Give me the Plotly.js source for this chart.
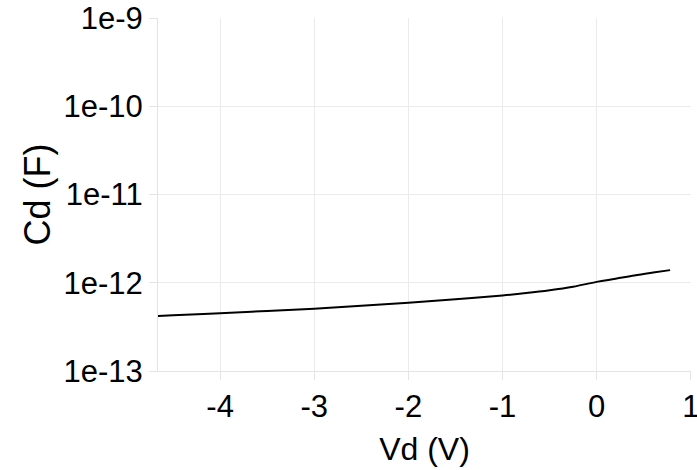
<!DOCTYPE html>
<html>
<head>
<meta charset="utf-8">
<script src="https://cdn.plot.ly/plotly-3.0.1.min.js"></script>
<style>html,body{margin:0;padding:0;background:#fff}#chart{width:697px;height:470px}</style>
</head>
<body>
<div id="chart"></div>
<script>
var vd = [-4.66, -4.5, -4.0, -3.5, -3.0, -2.5, -2.0, -1.5, -1.0, -0.75, -0.5, -0.25, 0.0, 0.2, 0.4, 0.6, 0.78];
var cd = [4.20e-13, 4.27e-13, 4.52e-13, 4.79e-13, 5.08e-13, 5.47e-13, 5.94e-13, 6.50e-13, 7.19e-13, 7.64e-13, 8.22e-13, 9.02e-13, 1.023e-12, 1.109e-12, 1.208e-12, 1.303e-12, 1.39e-12];
var yTickVals = [1e-13, 1e-12, 1e-11, 1e-10, 1e-9];
var yTickText = ['1e-13', '1e-12', '1e-11', '1e-10', '1e-9'];
var xTickVals = [-4, -3, -2, -1, 0, 1];
var xTickText = ['-4', '-3', '-2', '-1', '0', '1'];

var trace = {
  x: vd, y: cd, type: 'scatter', mode: 'lines',
  line: {color: '#000', width: 2, shape: 'spline'},
  hoverinfo: 'skip'
};
var layout = {
  width: 697, height: 470,
  margin: {l: 158, r: 6, t: 18, b: 99},
  paper_bgcolor: '#fff', plot_bgcolor: '#fff',
  showlegend: false,
  font: {family: 'Liberation Sans, Arial, sans-serif', color: '#000'},
  xaxis: {
    range: [-4.66, 1.002], tickvals: xTickVals, ticktext: xTickText,
    ticklabeloverflow: 'allow',
    showgrid: true, gridcolor: '#ebebeb', zeroline: false,
    showline: true, linecolor: '#e4e4e4', mirror: false,
    ticks: 'outside', ticklen: 8, tickcolor: '#e4e4e4',
    tickfont: {size: 31},
    title: {text: 'Vd (V)', font: {size: 32}, standoff: 14}
  },
  yaxis: {
    type: 'log', range: [-13, -9],
    tickvals: yTickVals, ticktext: yTickText,
    showgrid: true, gridcolor: '#ebebeb', zeroline: false,
    showline: true, linecolor: '#e4e4e4',
    ticks: 'outside', ticklen: 8, tickcolor: '#e4e4e4',
    tickfont: {size: 31},
    title: {text: 'Cd (F)', font: {size: 36}, standoff: 1}
  }
};
Plotly.newPlot('chart', [trace], layout, {staticPlot: true});
</script>
</body>
</html>
